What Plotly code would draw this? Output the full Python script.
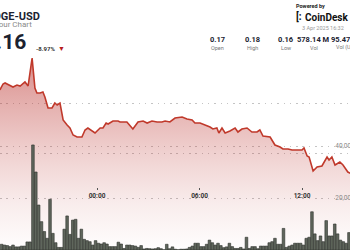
import plotly.graph_objects as go
import pandas as pd

# ---- data ----
price_times_apr2 = ["18:19", "18:30", "18:37", "18:54", "19:05", "19:19", "19:30", "19:47", "19:58", "20:12",
                    "20:22", "20:29", "20:40", "20:50", "20:57", "21:08", "21:22", "21:32", "21:40", "21:50",
                    "21:57", "22:01", "22:15", "22:25", "22:36", "22:50", "23:07", "23:18", "23:28", "23:42", "23:53"]
price_values_apr2 = [0.1726, 0.1738, 0.1740, 0.1736, 0.1732, 0.1736, 0.1734, 0.1742, 0.1734, 0.1790,
                     0.1730, 0.1720, 0.1720, 0.1722, 0.1712, 0.1690, 0.1690, 0.1700, 0.1696, 0.1700,
                     0.1682, 0.1666, 0.1656, 0.1650, 0.1636, 0.1632, 0.1632, 0.1646, 0.1650, 0.1644, 0.1640]
price_times_apr3 = ["00:11", "00:21", "00:32", "00:39", "00:56", "01:14", "01:21", "01:45", "02:06", "02:24",
                    "02:42", "02:56", "03:13", "03:31", "03:48", "03:59", "04:16", "04:34", "04:59", "05:16",
                    "05:34", "05:44", "06:02", "06:12", "06:26", "06:37", "06:47", "07:01", "07:08", "07:19",
                    "07:30", "07:47", "08:05", "08:15", "08:29", "08:47", "09:04", "09:22", "09:32", "09:43",
                    "10:08", "10:25", "10:43", "10:53", "11:11", "11:25", "11:42", "12:00", "12:07", "12:18",
                    "12:25", "12:39", "12:53", "13:10", "13:28", "13:35", "13:45", "13:56", "14:13", "14:24",
                    "14:41", "14:49", "15:06"]
price_values_apr3 = [0.1650, 0.1650, 0.1660, 0.1658, 0.1664, 0.1664, 0.1662, 0.1662, 0.1648, 0.1662,
                     0.1664, 0.1660, 0.1664, 0.1662, 0.1662, 0.1664, 0.1662, 0.1670, 0.1672, 0.1668,
                     0.1666, 0.1660, 0.1660, 0.1658, 0.1654, 0.1652, 0.1648, 0.1650, 0.1640, 0.1650,
                     0.1640, 0.1644, 0.1650, 0.1642, 0.1648, 0.1650, 0.1642, 0.1642, 0.1646, 0.1634,
                     0.1632, 0.1616, 0.1612, 0.1608, 0.1608, 0.1606, 0.1606, 0.1606, 0.1610, 0.1594,
                     0.1592, 0.1564, 0.1572, 0.1574, 0.1592, 0.1586, 0.1592, 0.1576, 0.1582, 0.1576,
                     0.1562, 0.1560, 0.1555]

volume_start = "2025-04-02 18:20"
volume_millions = [
    2.2, 1.9, 1.7, 1.3, 1.9, 1.2, 1.2, 1.5, 1.5, 3.1, 3.1, 40.4, 30.0, 17.3, 10.9, 7.1, 4.5, 19.5, 6.4, 2.8,
    1.0, 1.0, 8.0, 13.1, 6.0, 11.5, 11.8, 4.5, 8.0, 4.1, 3.6, 3.2, 1.9, 3.6, 2.6, 2.3, 2.8, 2.3, 1.3, 1.3,
    1.3, 3.0,
    2.3, 0.6, 1.9, 1.9, 1.7, 1.5, 1.0, 1.7, 0.4, 0.6, 0.5, 0.4, 0.5, 0.9, 0.5, 0.1, 2.2, 0.5, 1.2, 0.3,
    0.1, 0.3, 0.3, 0.4, 1.0, 1.5, 2.6, 2.6, 1.3, 1.3, 2.2, 3.8, 2.8, 1.9, 2.6, 1.7, 0.9, 1.2,
    2.6, 1.3, 0.6, 0.6, 1.0, 0.4, 4.9, 0.6, 1.3, 1.3, 0.5, 1.5, 1.5, 1.5, 2.8, 3.2, 4.5, 2.2, 2.2, 8.3,
    1.0, 1.5, 1.9, 2.6, 2.6, 2.6, 1.9, 4.5, 4.9, 14.7, 6.2, 3.6, 5.4, 3.2, 11.3, 5.4, 5.4, 10.0, 6.2, 3.8,
    3.2, 2.6, 6.7]

price_ticks = [0.16, 0.17]
volume_ticks = [20_000_000, 40_000_000]

pair = "DOGE-USD"
subtitle = "24 Hour Chart"
last_price = "0.16"
change_pct = "-8.97%"
stats_values = ["0.17", "0.18", "0.16", "578.14 M", "95.47 M"]
stats_labels = ["Open", "High", "Low", "Vol", "Vol (USD)"]
timestamp = "3 Apr 2025 16:32"

# ---- build ----
price_x = ["2025-04-02 " + t for t in price_times_apr2] + ["2025-04-03 " + t for t in price_times_apr3]
price_y = price_values_apr2 + price_values_apr3
vol_x = pd.date_range(volume_start, periods=len(volume_millions), freq="10min")
vol_y = [v * 1e6 for v in volume_millions]

W, H = 350, 250
def px(x):
    return x / W
def py(y):
    return 1 - y / H

fig = go.Figure()
fig.add_trace(go.Scatter(
    x=price_x, y=price_y, mode="lines",
    line=dict(color="rgb(192,57,43)", width=1.6),
    fill="tozeroy",
    fillgradient=dict(type="vertical", start=0.140, stop=0.180,
                      colorscale=[[0, "rgba(185,45,40,0.0)"], [0.25, "rgba(185,45,40,0.09)"],
                                  [0.5, "rgba(185,45,40,0.22)"], [0.75, "rgba(185,45,40,0.38)"],
                                  [1, "rgba(185,45,40,0.56)"]]),
    yaxis="y", hoverinfo="skip"))
fig.add_trace(go.Bar(
    x=vol_x, y=vol_y, yaxis="y2",
    xperiod=600000, xperiodalignment="middle",
    marker=dict(color="#5f665c", line=dict(color="#2c2f2a", width=0.6)),
    hoverinfo="skip"))

fig.update_layout(
    width=W, height=H, margin=dict(l=0, r=0, t=0, b=0, autoexpand=False),
    paper_bgcolor="white", plot_bgcolor="white",
    showlegend=False, bargap=0.08,
    xaxis=dict(type="date", range=["2025-04-02 18:19:18", "2025-04-03 14:48:36"],
               anchor="free", position=0.24, automargin=False,
               tick0="2025-04-03 00:00", dtick=6 * 3600 * 1000, tickformat="%H:%M",
               ticks="inside", ticklen=2, tickwidth=1, tickcolor="#555",
               showgrid=False, showline=False, zeroline=False,
               tickfont=dict(family="Roboto", size=6.5, color="#333", weight="bold")),
    yaxis=dict(range=[0.1406, 0.1906], tickvals=price_ticks, showticklabels=False,
               showgrid=True, gridcolor="#c4c4c4", griddash="1.5px,4.8px", gridwidth=1,
               zeroline=False, showline=False, automargin=False),
    yaxis2=dict(overlaying="y", side="right", anchor="free", position=0.955, automargin=False,
                range=[0, 96.15e6], tickvals=volume_ticks, tickformat=",d",
                showgrid=True, gridcolor="#c4c4c4", griddash="1.5px,4.8px", gridwidth=1,
                zeroline=False, showline=False, ticks="",
                tickfont=dict(family="Roboto", size=6.5, color="#888")),
)

anns = []
def add(text, x, y, size, color, xanchor="center", bold=False, family="Roboto"):
    anns.append(dict(text=text, x=px(x), y=py(y), xref="paper", yref="paper",
                     xanchor=xanchor, yanchor="middle", showarrow=False,
                     font=dict(family=family, size=size, color=color, weight="bold" if bold else "normal")))

add(pair, 42, 16, 11, "#1b2230", "right", True)
add(subtitle, 34, 25, 8, "#8a8a8a", "right")
add(last_price, 28, 42, 21, "#1b2230", "right", True)
add(change_pct, 34, 49, 6, "#333", "left", True)
add("▼", 62, 49, 7, "#b71c1c")
stat_cx = [217.5, 252, 286, 313.5]
for v, l, cx in zip(stats_values[:4], stats_labels[:4], stat_cx):
    add(v, cx, 39.5, 7.5, "#1b2230", "center", True)
    add(l, cx, 48, 5.5, "#777")
add(stats_values[4], 329, 39.5, 7.5, "#1b2230", "left", True)
add(stats_labels[4], 334, 48, 5.5, "#777", "left")
add("Powered by", 294, 6, 5.5, "#222", "left", True)
add("[:", 294, 17, 10, "#111", "left", True)
add("CoinDesk Data", 303, 17, 10, "#111", "left", True)
add(timestamp, 300, 28.5, 5.5, "#999", "left")
fig.update_layout(annotations=anns)

fig.write_html("out.html")
